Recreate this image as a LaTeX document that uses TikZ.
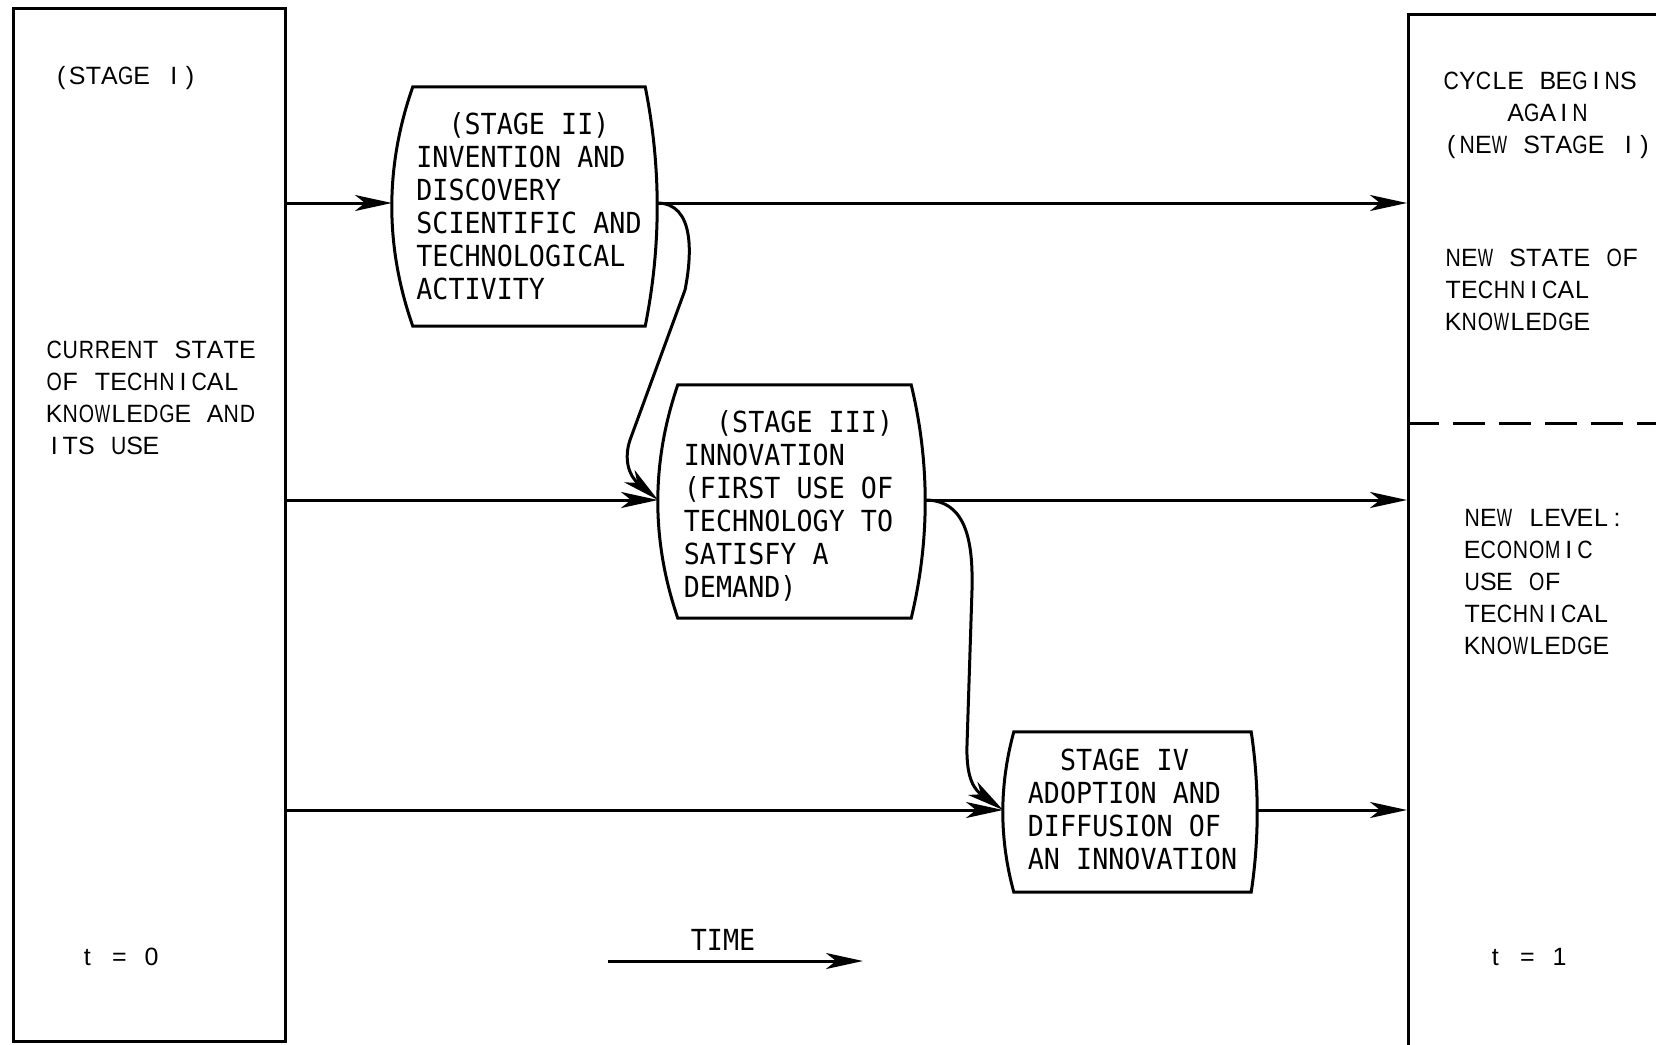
\documentclass[tikz,border=0pt]{standalone}
\usepackage{fontspec}
\usepackage{graphicx}
\setmainfont{Liberation Sans}
\newfontfamily\boxfont[FakeStretch=0.92]{DejaVu Sans Mono}
\newfontfamily\sidefont{Liberation Sans}
\usetikzlibrary{arrows.meta,calc}
\newlength\monopitch
\setlength\monopitch{16.1pt}
\newsavebox\monobox
\newcommand\monochar[1]{\sbox\monobox{#1}%
  \ifdim\ht\monobox>1pt
    \ifdim\wd\monobox>1.05\monopitch
      \makebox[\monopitch][c]{\resizebox{0.95\monopitch}{\height}{#1}}%
    \else
      \makebox[\monopitch][c]{#1}%
    \fi
  \else
    \hspace*{\monopitch}%
  \fi}
\ExplSyntaxOn
\NewDocumentCommand\mono{m}{\str_map_inline:nn {#1} {\monochar{##1}}}
\ExplSyntaxOff
\tikzset{
  ln/.style={line width=3pt},
  arr/.style={line width=3pt,-{Stealth[length=37pt,width=16pt,inset=10pt]}},
  stagetxt/.style={font=\boxfont\fontsize{29}{33}\selectfont,align=left,inner sep=0pt},
  stageshp/.style={inner sep=0pt},
  sidetxt/.style={font=\sidefont\fontsize{25}{32}\selectfont,align=left,inner sep=0pt},
  dashline/.style={line width=3pt,dash pattern=on 32pt off 14pt}
}
\newcommand\stageshape[3]{%
  \draw[ln] (#1.north west) -- (#1.north east)
    .. controls ($(#1.north east)!1/3!(#1.south east)+(#3*4/3,0)$) and ($(#1.north east)!2/3!(#1.south east)+(#3*4/3,0)$) .. (#1.south east)
    -- (#1.south west)
    .. controls ($(#1.south west)!1/3!(#1.north west)-(#2*4/3,0)$) and ($(#1.south west)!2/3!(#1.north west)-(#2*4/3,0)$) .. cycle;}
\begin{document}
\begin{tikzpicture}[x=1pt,y=-1pt]
\useasboundingbox (0,0) rectangle (1656,1044);
\fill[white] (0,0) rectangle (1656,1044);
\clip (0,0) rectangle (1656,1044);

% outer boxes
\node[draw,ln,minimum width=272pt,minimum height=1033pt,inner sep=0pt] (b1) at (149,524.5) {};
\node[draw,ln,minimum width=400pt,minimum height=1100pt,inner sep=0pt,anchor=north west] (b2) at (1407,13) {};

% left box texts
\node[sidetxt,anchor=west] (st1) at (53,78) {\mono{(STAGE I)}};
\node[sidetxt,anchor=west] (cur) at (46,397.5) {\mono{CURRENT STATE}\\\mono{OF TECHNICAL}\\\mono{KNOWLEDGE AND}\\\mono{ITS USE}};
\node[sidetxt,anchor=west] (t0) at (79,957) {\mono{t = 0}};

% right box texts
\node[sidetxt,anchor=west] (cyc) at (1443,115.5) {\mono{CYCLE BEGINS}\\\hspace*{4\monopitch}\mono{AGAIN}\\\mono{(NEW STAGE I)}};
\node[sidetxt,anchor=west] (nst) at (1445,290) {\mono{NEW STATE OF}\\\mono{TECHNICAL}\\\mono{KNOWLEDGE}};
\node[sidetxt,anchor=west] (nlv) at (1464,582) {\mono{NEW LEVEL:}\\\mono{ECONOMIC}\\\mono{USE OF}\\\mono{TECHNICAL}\\\mono{KNOWLEDGE}};
\node[sidetxt,anchor=west] (t1) at (1487,957) {\mono{t = 1}};
\coordinate (dl) at (1656,423);
\draw[dashline] (b2.west |- dl) -- (dl);

% stage boxes
\node[stageshp,minimum width=232pt,minimum height=239pt] (s2) at (529,206.5) {};
\node[stagetxt] (s2t) at (529,206.5)
  {\hspace*{2\monopitch}\mono{(STAGE II)}\\\mono{INVENTION AND}\\\mono{DISCOVERY}\\\mono{SCIENTIFIC AND}\\\mono{TECHNOLOGICAL}\\\mono{ACTIVITY}};
\stageshape{s2}{21}{12}
\node[stageshp,minimum width=233pt,minimum height=233pt] (s3) at (794.5,501.5) {};
\node[stagetxt] (s3t) at (788.5,505.5)
  {\hspace*{2\monopitch}\mono{(STAGE III)}\\\mono{INNOVATION}\\\mono{(FIRST USE OF}\\\mono{TECHNOLOGY TO}\\\mono{SATISFY A}\\\mono{DEMAND)}};
\stageshape{s3}{20}{14}
\node[stageshp,minimum width=237pt,minimum height=160pt] (s4) at (1132.5,812) {};
\node[stagetxt] (s4t) at (1132.5,809)
  {\hspace*{2\monopitch}\mono{STAGE IV}\\\mono{ADOPTION AND}\\\mono{DIFFUSION OF}\\\mono{AN INNOVATION}};
\stageshape{s4}{11}{6}

\coordinate (s2w) at (392,203);
\coordinate (s2e) at (657,203);
\coordinate (s3w) at (658,500);
\coordinate (s3e) at (925,500);
\coordinate (s4w) at (1003,810);
\coordinate (s4e) at (1257,810);

% row arrows
\draw[arr] (b1.east |- s2w) -- (s2w);
\draw[arr] (s2e) -- (s2e -| b2.west);
\draw[arr] (b1.east |- s3w) -- (s3w);
\draw[arr] (s3e) -- (s3e -| b2.west);
\draw[arr] (b1.east |- s4w) -- (s4w);
\draw[arr] (s4e) -- (s4e -| b2.west);

% curved connectors
\draw[arr] (s2e) .. controls (695,203) and (692,255) .. (685,290) -- (630,440) .. controls (624,458) and (628,475) .. (s3w);
\draw[arr] (s3e) .. controls (968,500) and (973,545) .. (972,590) -- (967,745) .. controls (966,780) and (975,790) .. (s4w);

% time arrow
\node[stagetxt] (time) at (723,940) {\mono{TIME}};
\coordinate (ta) at (608,961);
\coordinate (tb) at (863,961);
\draw[arr] (ta) -- (tb);
\end{tikzpicture}
\end{document}
